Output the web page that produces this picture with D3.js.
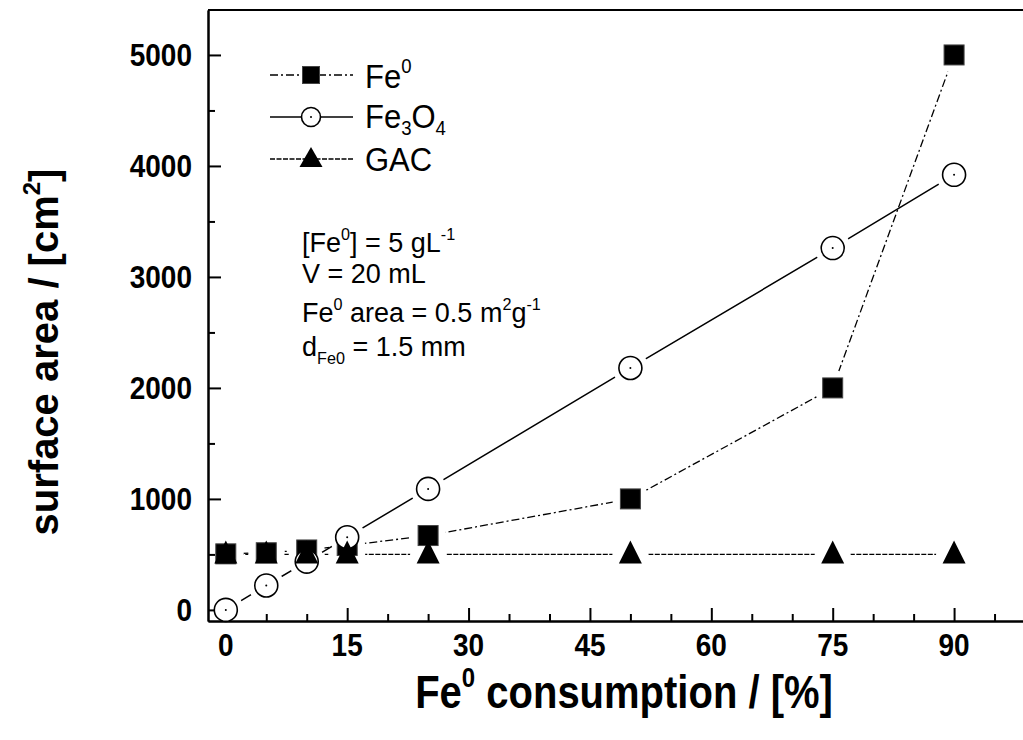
<!DOCTYPE html>
<html>
<head>
<meta charset="utf-8">
<script src="https://cdn.jsdelivr.net/npm/d3@7"></script>
<style>
body { margin: 0; background: #fff; }
text { font-family: Arial, "Liberation Sans", sans-serif; fill: #000; }
</style>
</head>
<body>
<svg id="chart" width="1023" height="740"></svg>
<script>
// data
var consumption = [0, 5, 10, 15, 25, 50, 75, 90];
var fe0Area = [505, 515, 540, 580, 670, 1000, 2000, 5000];
var fe3o4Area = [0, 220, 435, 655, 1090, 2180, 3260, 3920];
var gacArea = [500, 500, 500, 500, 500, 500, 500, 500];
var xTicks = [0, 15, 30, 45, 60, 75, 90];
var xMinor = [5, 10, 20, 25, 35, 40, 50, 55, 65, 70, 80, 85, 95];
var yTicks = [0, 1000, 2000, 3000, 4000, 5000];
var yMinor = [500, 1500, 2500, 3500, 4500];

var svg = d3.select("#chart");

var x = d3.scaleLinear().domain([-2.2, 100]).range([208, 1035]);
var y = d3.scaleLinear().domain([-100, 5405]).range([621, 10]);

// the text in the figure is a bit taller than wide
var stretch = 1.15;

// frame top
svg.append("line")
    .attr("x1", 208).attr("x2", 1030)
    .attr("y1", 10).attr("y2", 10)
    .attr("stroke", "#000").attr("stroke-width", 2);

// axes (labels drawn separately)
var xAxis = d3.axisBottom(x).tickValues(xTicks).tickSizeInner(-13).tickSizeOuter(0).tickFormat("");
var xAxisMinor = d3.axisBottom(x).tickValues(xMinor).tickSizeInner(-7).tickSizeOuter(0).tickFormat("");
var yAxis = d3.axisLeft(y).tickValues(yTicks).tickSizeInner(-13).tickSizeOuter(0).tickFormat("");
var yAxisMinor = d3.axisLeft(y).tickValues(yMinor).tickSizeInner(-7).tickSizeOuter(0).tickFormat("");

function styleAxis(g) {
    g.select(".domain").attr("stroke", "#000").attr("stroke-width", 2);
    g.selectAll(".tick line").attr("stroke", "#000").attr("stroke-width", 2);
}

svg.append("g").attr("transform", "translate(0,621)").call(xAxisMinor).call(styleAxis);
svg.append("g").attr("transform", "translate(0,621)").call(xAxis).call(styleAxis);
svg.append("g").attr("transform", "translate(208,0)").call(yAxisMinor).call(styleAxis);
svg.append("g").attr("transform", "translate(208,0)").call(yAxis).call(styleAxis);

svg.append("g").selectAll("text").data(xTicks).enter().append("text")
    .attr("transform", function(d) { return "translate(" + x(d) + ",656) scale(1," + stretch + ")"; })
    .attr("text-anchor", "middle")
    .attr("font-size", 28).attr("font-weight", "bold")
    .text(d3.format("d"));

svg.append("g").selectAll("text").data(yTicks).enter().append("text")
    .attr("transform", function(d) { return "translate(192," + (y(d) + 11.5) + ") scale(1," + stretch + ")"; })
    .attr("text-anchor", "end")
    .attr("font-size", 28).attr("font-weight", "bold")
    .text(d3.format("d"));

// rich text helper: parts = [[text, "n" | "sup" | "sub"], ...]
function richText(parent, px, py, parts, size, weight, subDrop) {
    var t = parent.append("text")
        .attr("x", px).attr("y", py)
        .attr("font-size", size)
        .attr("font-weight", weight || "normal");
    var shift = 0;
    parts.forEach(function(p) {
        var target = p[1] === "sup" ? -0.45 * size : p[1] === "sub" ? (subDrop || 0.3) * size : 0;
        t.append("tspan")
            .attr("dy", target - shift)
            .attr("font-size", p[1] === "n" ? size : size * 0.6)
            .text(p[0]);
        shift = target;
    });
    return t;
}

// series
var series = [
    {name: "fe0", values: fe0Area, dash: "8,3,2,3", width: 1.3, marker: "square"},
    {name: "fe3o4", values: fe3o4Area, dash: null, width: 1.5, marker: "circle"},
    {name: "gac", values: gacArea, dash: "5,1.5", width: 1.3, marker: "triangle"}
];

var defs = svg.append("defs");
series.forEach(function(s) {
    var m = defs.append("mask").attr("id", "mask-" + s.name)
        .attr("maskUnits", "userSpaceOnUse")
        .attr("x", 0).attr("y", 0).attr("width", 1023).attr("height", 740);
    m.append("rect").attr("width", 1023).attr("height", 740).attr("fill", "#fff");
    m.selectAll("circle").data(consumption).enter().append("circle")
        .attr("cx", function(d) { return x(d); })
        .attr("cy", function(d, i) { return y(s.values[i]); })
        .attr("r", 18).attr("fill", "#000");
});

var line = d3.line()
    .x(function(d) { return x(d[0]); })
    .y(function(d) { return y(d[1]); });

series.forEach(function(s) {
    svg.append("path")
        .datum(consumption.map(function(c, i) { return [c, s.values[i]]; }))
        .attr("d", line)
        .attr("fill", "none")
        .attr("stroke", "#000")
        .attr("stroke-width", s.width)
        .attr("stroke-dasharray", s.dash)
        .attr("mask", "url(#mask-" + s.name + ")");
});

function drawMarker(g, kind, cx, cy, big) {
    if (kind === "square") {
        var h = big ? 10 : 8.5;
        g.append("rect").attr("x", cx - h).attr("y", cy - h)
            .attr("width", 2 * h).attr("height", 2 * h)
            .attr("fill", "#000").attr("stroke", "#444").attr("stroke-width", 1);
    } else if (kind === "circle") {
        g.append("circle").attr("cx", cx).attr("cy", cy).attr("r", big ? 11.5 : 9.5)
            .attr("fill", "#fff").attr("stroke", "#000").attr("stroke-width", 1.6);
        g.append("circle").attr("cx", cx).attr("cy", cy).attr("r", 1).attr("fill", "#000");
    } else {
        var a = big ? 14 : 12, b = big ? 9 : 8, w = 11.5;
        g.append("path")
            .attr("d", "M" + cx + "," + (cy - a) + "L" + (cx + w) + "," + (cy + b) + "L" + (cx - w) + "," + (cy + b) + "Z")
            .attr("fill", "#000");
    }
}

// markers: squares, then circles, then triangles on top
series.forEach(function(s) {
    var g = svg.append("g").attr("class", "markers-" + s.name);
    consumption.forEach(function(c, i) {
        drawMarker(g, s.marker, x(c), y(s.values[i]), true);
    });
});

// legend
var legendRows = [
    {y: 75, base: 88, s: series[0], label: [["Fe", "n"], ["0", "sup"]]},
    {y: 117, base: 128, s: series[1], label: [["Fe", "n"], ["3", "sub"], ["O", "n"], ["4", "sub"]]},
    {y: 159, base: 171, s: series[2], label: [["GAC", "n"]]}
];
var legend = svg.append("g").attr("class", "legend");
legendRows.forEach(function(r) {
    legend.append("line")
        .attr("x1", 270).attr("x2", 353).attr("y1", r.y).attr("y2", r.y)
        .attr("stroke", "#000").attr("stroke-width", r.s.width)
        .attr("stroke-dasharray", r.s.dash);
    drawMarker(legend, r.s.marker, 311, r.y, false);
    richText(legend.append("g").attr("transform", "translate(365," + r.base + ") scale(1,1.08)"), 0, 0, r.label, 31, "normal", 0.22);
});

// annotation
var note = svg.append("g").attr("class", "note");
richText(note, 302, 252, [["[Fe", "n"], ["0", "sup"], ["] = 5 gL", "n"], ["-1", "sup"]], 27);
richText(note, 302, 283, [["V = 20 mL", "n"]], 27);
richText(note, 302, 322, [["Fe", "n"], ["0", "sup"], [" area = 0.5 m", "n"], ["2", "sup"], ["g", "n"], ["-1", "sup"]], 27);
richText(note, 302, 356, [["d", "n"], ["Fe0", "sub"], [" = 1.5 mm", "n"]], 27);

// axis titles
richText(svg.append("g").attr("transform", "translate(624,708) scale(1," + stretch + ")"), 0, 0,
    [["Fe", "n"], ["0", "sup"], [" consumption / [%]", "n"]], 40, "bold")
    .attr("text-anchor", "middle");

richText(svg.append("g").attr("transform", "translate(58,352) rotate(-90)"), 0, 0,
    [["surface area / [cm", "n"], ["2", "sup"], ["]", "n"]], 40, "bold")
    .attr("text-anchor", "middle");
</script>
</body>
</html>
